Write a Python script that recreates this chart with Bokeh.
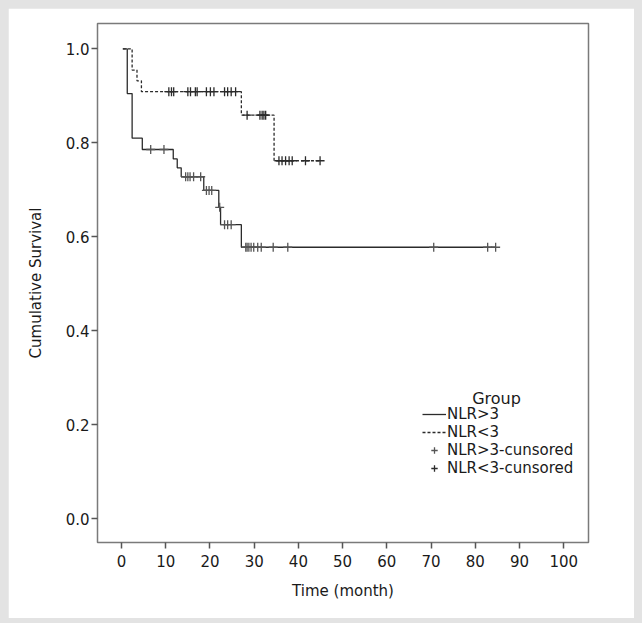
import numpy as np
from bokeh.plotting import figure
from bokeh.models import Legend, LegendItem, Label, FixedTicker, NumeralTickFormatter, Range1d
from bokeh.embed import file_html
from bokeh.resources import INLINE

# NLR>3 group (solid): step times and survival after each step
hi_t = [0.3, 1.3, 2.4, 4.7, 11.7, 12.6, 13.5, 18.6, 22.0, 22.4, 27.1]
hi_s = [1.0, 0.905, 0.810, 0.786, 0.766, 0.747, 0.728, 0.699, 0.663, 0.626, 0.578]
hi_end = 84.6
hi_cens = [6.6, 9.6, 14.5, 15.0, 15.5, 16.3, 17.9, 19.2, 19.8, 20.4, 22.2, 23.3, 24.0, 24.8,
           28.1, 28.4, 28.8, 29.3, 29.9, 30.8, 31.6, 34.3, 37.6, 70.6, 82.8, 84.6]

# NLR<3 group (dashed)
lo_t = [0.3, 2.4, 3.5, 4.5, 27.1, 34.5]
lo_s = [1.0, 0.955, 0.932, 0.909, 0.859, 0.762]
lo_end = 44.9
lo_cens = [10.7, 11.3, 11.8, 15.0, 15.6, 16.7, 17.1, 19.2, 20.1, 20.9, 23.3, 24.0, 24.8, 25.8,
           28.4, 31.3, 31.8, 32.2, 32.6, 35.6, 36.3, 37.1, 37.9, 38.6, 41.6, 44.9]

x_ticks = [0, 10, 20, 30, 40, 50, 60, 70, 80, 90, 100]
y_ticks = [0.0, 0.2, 0.4, 0.6, 0.8, 1.0]

FONT = "DejaVu Sans"
TXT = "#1a1a1a"


def step_at(ts, ss, q):
    idx = np.searchsorted(np.array(ts), np.array(q), side="right") - 1
    return list(np.array(ss)[idx])


p = figure(width=626, height=610, output_backend="svg", toolbar_location=None,
           x_range=Range1d(-5.43, 105.6), y_range=Range1d(-0.050, 1.054),
           min_border_left=89, min_border_right=46, min_border_top=15, min_border_bottom=76)
p.grid.visible = False
p.outline_line_color = "#7a7a7a"
p.outline_line_width = 1.5
p.background_fill_color = "white"
p.border_fill_color = "white"

for ax in (p.xaxis[0], p.yaxis[0]):
    ax.axis_line_color = None
    ax.major_tick_line_color = "#555555"
    ax.major_tick_line_width = 1.5
    ax.major_tick_out = 6
    ax.major_tick_in = 0
    ax.minor_tick_line_color = None
    ax.major_label_text_font = FONT
    ax.major_label_text_font_size = "15px"
    ax.major_label_text_color = TXT
    ax.axis_label_text_font = FONT
    ax.axis_label_text_font_size = "15px"
    ax.axis_label_text_font_style = "normal"
    ax.axis_label_text_color = TXT

p.xaxis.ticker = FixedTicker(ticks=x_ticks)
p.yaxis.ticker = FixedTicker(ticks=y_ticks)
p.yaxis.formatter = NumeralTickFormatter(format="0.0")
p.xaxis.axis_label = "Time (month)"
p.yaxis.axis_label = "Cumulative Survival"
p.xaxis.major_label_standoff = 6
p.yaxis.major_label_standoff = 2
p.xaxis.axis_label_standoff = 12
p.yaxis.axis_label_standoff = 18

r_hi = p.step(hi_t + [hi_end], hi_s + [hi_s[-1]], mode="after",
              line_color="#2b2b2b", line_width=1.3)
r_lo = p.step(lo_t + [lo_end], lo_s + [lo_s[-1]], mode="after",
              line_color="#2b2b2b", line_width=1.3, line_dash="3 2")
r_hc = p.scatter(hi_cens, step_at(hi_t, hi_s, hi_cens), marker="cross", size=9,
                 line_color="#555555", line_width=1.3)
r_lc = p.scatter(lo_cens, step_at(lo_t, lo_s, lo_cens), marker="cross", size=9,
                 line_color="#2b2b2b", line_width=1.3)

legend = Legend(items=[
    LegendItem(label="NLR>3", renderers=[r_hi]),
    LegendItem(label="NLR<3", renderers=[r_lo]),
    LegendItem(label="NLR>3-cunsored", renderers=[r_hc]),
    LegendItem(label="NLR<3-cunsored", renderers=[r_lc]),
], location=(325, 65), border_line_color=None, background_fill_alpha=0,
    label_text_font=FONT, label_text_font_size="15px", label_text_color=TXT,
    label_height=16, glyph_height=16, glyph_width=24, label_standoff=1,
    spacing=0, padding=0, margin=0)
p.add_layout(legend)

p.add_layout(Label(x=79.3, y=0.256, text="Group", text_font=FONT, text_font_size="16px",
                   text_color=TXT, text_baseline="middle"))

html = file_html(p, INLINE)
html = html.replace("</head>",
                    "<style>html, body { background: #e3e3e3 !important; }"
                    " body { padding: 8px !important; }</style></head>", 1)
open("out.html", "w").write(html)
